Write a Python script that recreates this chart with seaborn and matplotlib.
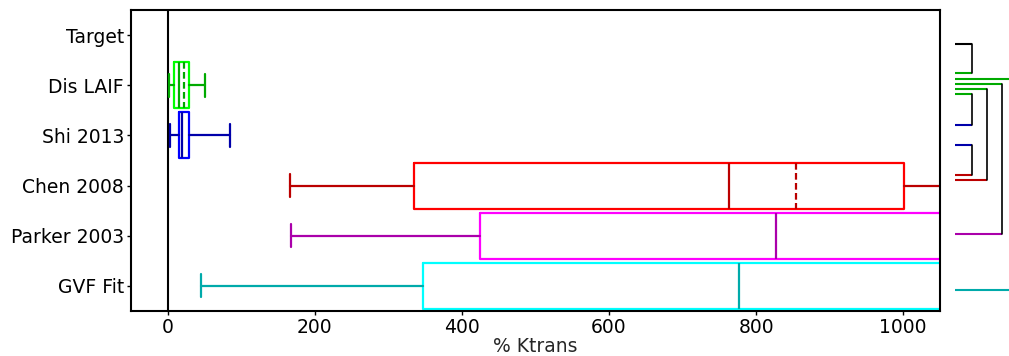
import matplotlib
matplotlib.use("Agg")
import matplotlib.pyplot as plt
import seaborn as sns

# categories, top to bottom
labels = ["Target", "Dis LAIF", "Shi 2013", "Chen 2008", "Parker 2003", "GVF Fit"]

# box statistics (Target has no box)
whislo = [None, 2, 3, 166, 168, 45]
q1 = [None, 8, 15, 335, 424, 347]
med = [None, 15, 20, 763, 827, 777]
q3 = [None, 29, 29, 1001, 1250, 1300]
whishi = [None, 50, 84, 1200, 1500, 1500]
mean = [None, 22, None, 854, None, None]

box_col = [None, "#00ff00", "#0000ff", "#ff0000", "#ff00ff", "#00ffff"]
line_col = ["black", "#00aa00", "#0000aa", "#bb0000", "#aa00aa", "#00aaaa"]

# significance brackets between categories
pairs = [(0, 1), (1, 5), (1, 4), (1, 3), (1, 2), (2, 3)]
levels = [1, 4, 3, 2, 1, 1]

sns.set_style("ticks")
plt.rcParams["font.family"] = ["DejaVu Sans"]
plt.rcParams["axes.edgecolor"] = "black"
plt.rcParams["xtick.color"] = "black"
plt.rcParams["ytick.color"] = "black"

fig = plt.figure(figsize=(10.09, 3.56), dpi=100)
ax = fig.add_axes([131 / 1009, 45 / 356, 809 / 1009, 301 / 356])

ax.axvline(0, color="black", lw=1.5, zorder=1)

for i in range(1, len(labels)):
    st = {"label": labels[i], "whislo": whislo[i], "q1": q1[i], "med": med[i],
          "q3": q3[i], "whishi": whishi[i], "fliers": []}
    if mean[i] is not None:
        st["mean"] = mean[i]
    c = line_col[i]
    ax.bxp([st], positions=[i], widths=0.92, orientation="horizontal",
           showmeans=mean[i] is not None, meanline=True, manage_ticks=False,
           boxprops=dict(color=box_col[i], lw=1.6),
           whiskerprops=dict(color=c, lw=1.6),
           capprops=dict(color=c, lw=1.6),
           medianprops=dict(color=c, lw=1.6),
           meanprops=dict(color=c, lw=1.6, linestyle=(0, (3, 1.5))))

ax.set_xlim(-50, 1050)
ax.set_ylim(5.5, -0.5)
ax.set_yticks(range(len(labels)))
ax.set_yticklabels(labels)
ax.set_xticks(range(0, 1001, 200))
ax.set_xlabel("% Ktrans", fontsize=13.5, labelpad=0)
ax.tick_params(labelsize=13.5, length=3, width=1, pad=2)
for s in ax.spines.values():
    s.set_linewidth(1.5)

# bracket panel on the right
ax2 = fig.add_axes([940 / 1009, 45 / 356, 69 / 1009, 301 / 356])
ax2.set_xlim(0, 69)
ax2.set_ylim(5.5, -0.5)
ax2.axis("off")

level_x = {1: 32, 2: 47, 3: 62, 4: 77}
offs = [(8.7, -12), (-6, 3.7), (-1.3, -1.3), (4, -5.3), (8.7, -10.3), (9.3, -10.3)]
for (a, b), lv, (oa, ob) in zip(pairs, levels, offs):
    ya = a + oa / 50.2
    yb = b + ob / 50.2
    xl = level_x[lv]
    ax2.plot([15, xl], [ya, ya], color=line_col[a], lw=1.5, solid_capstyle="butt")
    ax2.plot([15, xl], [yb, yb], color=line_col[b], lw=1.5, solid_capstyle="butt")
    ax2.plot([xl, xl], [ya, yb], color="black", lw=1.2)

fig.savefig("out.png", dpi=100)
